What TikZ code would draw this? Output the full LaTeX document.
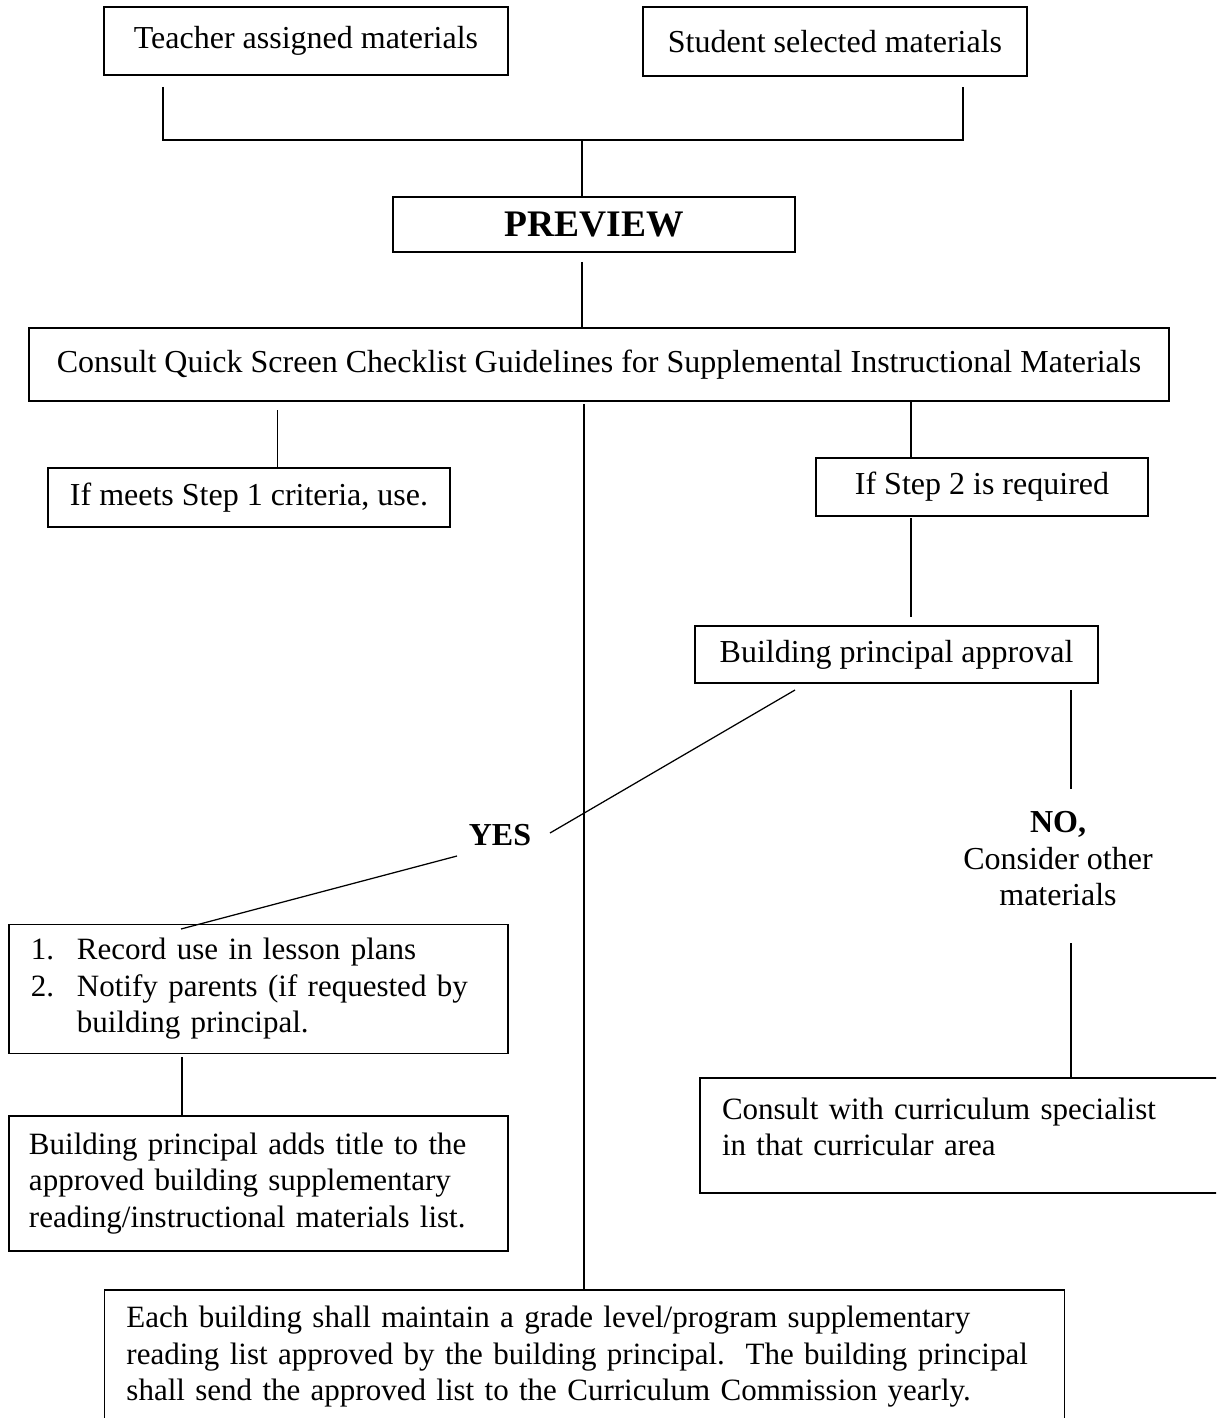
\documentclass[tikz,border=0pt]{standalone}
\usepackage{fontspec}
\setmainfont{Liberation Serif}
\begin{document}
\begin{tikzpicture}[x=0.4pt,y=-0.4pt,
  box/.style={draw, line width=0.7pt, inner sep=0pt, align=center,
    font=\fontsize{12.8}{14.6}\selectfont},
  lbox/.style={box, align=left, font=\fontsize{12.4}{14.6}\selectfont},
  conn/.style={line width=0.5pt},
  bold/.style={inner sep=0pt, font=\bfseries\fontsize{12.8}{14.6}\selectfont},
]
\useasboundingbox (0,0) rectangle (1216,1418);
\fill[white] (0,0) rectangle (1216,1418);
\clip (0,0) rectangle (1216,1418);

% boxes
\node[box, minimum width=161.6pt, minimum height=27.2pt] (teacher) at (306,41) {Teacher assigned materials};
\node[box, minimum width=153.6pt, minimum height=27.6pt] (student) at (835,41.5) {Student selected materials};
\node[box, minimum width=160.8pt, minimum height=22pt, font=\bfseries\fontsize{15}{18}\selectfont] (preview) at (594,224.5) {PREVIEW};
\node[box, minimum width=456pt, minimum height=29.2pt] (consult) at (599,364.5) {Consult Quick Screen Checklist Guidelines for Supplemental Instructional Materials};
\node[box, minimum width=160.8pt, minimum height=23.6pt] (step1) at (249,497.5) {If meets Step 1 criteria, use.};
\node[box, minimum width=132.8pt, minimum height=23.2pt] (step2) at (982,487) {If Step 2 is required};
\node[box, minimum width=161.2pt, minimum height=22.8pt] (approval) at (896.5,654.5) {Building principal approval};
\node[bold] (yes) at (500,835) {YES};
\node[inner sep=0pt, align=center, font=\fontsize{12.8}{14.6}\selectfont] (no) at (1058,859) {\textbf{NO,}\\Consider other\\materials};
\node[lbox, minimum width=199.6pt, minimum height=51.6pt, inner xsep=8.8pt, text width=182pt] (record) at (258.5,989)
  {\mbox{\makebox[18.4pt][l]{1.}Record use in lesson plans}\\
   \mbox{\makebox[18.4pt][l]{2.}Notify parents (if requested by}\\
   \mbox{\hspace*{18.4pt}building principal.}};
\node[lbox, minimum width=199.6pt, minimum height=54pt, inner xsep=8pt, text width=183.6pt] (adds) at (258.5,1183.5)
  {\mbox{Building principal adds title to the}\\
   \mbox{approved building supplementary}\\
   \mbox{reading/instructional materials list.}};
\node[lbox, minimum width=216pt, minimum height=46pt, inner xsep=8.8pt, text width=198.4pt, text depth=21.8pt] (specialist) at (970,1135.5)
  {Consult with curriculum specialist\\in that curricular area};
\node[lbox, minimum width=384pt, minimum height=53.6pt, inner xsep=8.8pt, text width=366.4pt] (bottom) at (584.5,1357)
  {\mbox{Each building shall maintain a grade level/program supplementary}\\
   \mbox{reading list approved by the building principal.\ \ The building principal}\\
   \mbox{shall send the approved list to the Curriculum Commission yearly.}};

% connector end points
\coordinate (ta) at (163,87);
\coordinate (sa) at (963,87);
\coordinate (jn) at (582,140);
\coordinate (pv) at (582,262);
\coordinate (c1) at (277.5,410);
\coordinate (c2) at (584,404);
\coordinate (c3) at (911,401);
\coordinate (s2) at (911,518);
\coordinate (s2b) at (911,617);
\coordinate (ap1) at (795,690);
\coordinate (ys1) at (550,833);
\coordinate (ys2) at (457,856);
\coordinate (rc) at (181,929);
\coordinate (n1) at (1071,690);
\coordinate (n2) at (1071,789);
\coordinate (n3) at (1071,943);
\coordinate (r1) at (182,1057);

% connectors
\draw[conn] (ta) |- (jn) -| (sa);
\draw[conn] (jn) -- (jn |- preview.north);
\draw[conn] (pv) -- (pv |- consult.north);
\draw[conn] (c1) -- (c1 |- step1.north);
\draw[conn] (c2) -- (c2 |- bottom.north);
\draw[conn] (c3) -- (c3 |- step2.north);
\draw[conn] (s2) -- (s2b);
\draw[conn] (ap1) -- (ys1);
\draw[conn] (ys2) -- (rc);
\draw[conn] (n1) -- (n2);
\draw[conn] (n3) -- (n3 |- specialist.north);
\draw[conn] (r1) -- (r1 |- adds.north);
\end{tikzpicture}
\end{document}
